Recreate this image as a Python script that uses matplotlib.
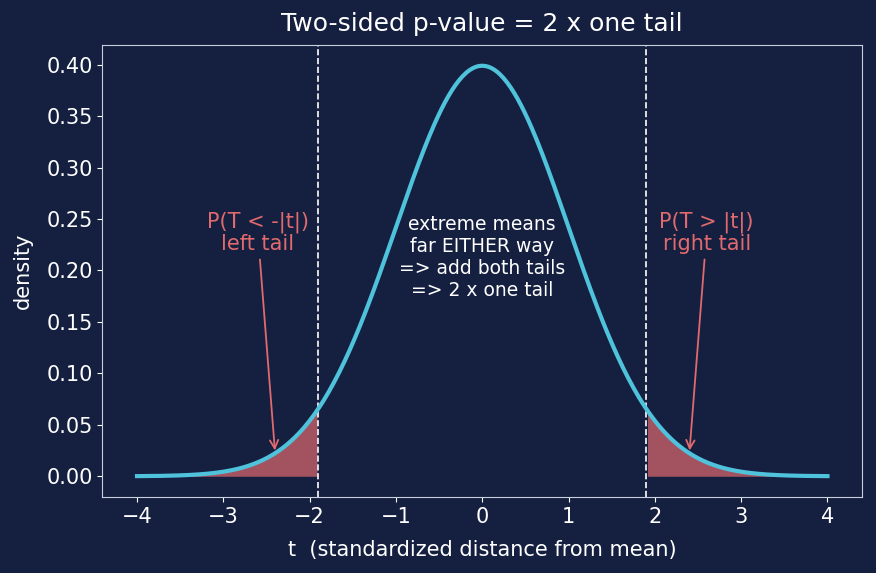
import numpy as np
import matplotlib.pyplot as plt

# data
t_crit = 1.9
x_min, x_max = -4.0, 4.0
arrow_x = [-2.4, 2.4]
label_x = [-2.6, 2.6]
label_y = 0.22
tail_labels = ["P(T < -|t|)\nleft tail", "P(T > |t|)\nright tail"]
center_text = "extreme means\nfar EITHER way\n=> add both tails\n=> 2 x one tail"

BG = "#152040"
FG = "#ffffff"
CURVE = "#4fc3dc"
TAIL = "#e06a6e"


def pdf(v):
    return np.exp(-v ** 2 / 2) / np.sqrt(2 * np.pi)


x = np.linspace(x_min, x_max, 400)
y = pdf(x)

fig, ax = plt.subplots(figsize=(8.76, 5.73), dpi=100)
fig.patch.set_facecolor(BG)
ax.set_facecolor(BG)

ax.plot(x, y, color=CURVE, lw=3, zorder=3)
left = x <= -t_crit
right = x >= t_crit
ax.fill_between(x[left], 0, y[left], color=TAIL, alpha=0.7, lw=0, zorder=2)
ax.fill_between(x[right], 0, y[right], color=TAIL, alpha=0.7, lw=0, zorder=2)
ax.axvline(-t_crit, color=FG, ls="--", lw=1.2)
ax.axvline(t_crit, color=FG, ls="--", lw=1.2)

for ax_, lx, lab in zip(arrow_x, label_x, tail_labels):
    ax.annotate(lab, xy=(ax_, pdf(ax_)), xytext=(lx, label_y),
                ha="center", color=TAIL, fontsize=15, linespacing=1.05,
                arrowprops=dict(arrowstyle="->", color=TAIL, lw=1.3))

ax.text(0, 0.213, center_text, ha="center", va="center", color=FG,
        fontsize=13.5, linespacing=1.2)

ax.set_title("Two-sided p-value = 2 x one tail", color=FG, fontsize=18, pad=10)
ax.set_xlabel("t  (standardized distance from mean)", color=FG, fontsize=15,
              labelpad=10)
ax.set_ylabel("density", color=FG, fontsize=15, labelpad=10)
ax.tick_params(colors=FG, labelsize=15)
ax.set_yticks(np.arange(0, 0.41, 0.05))
for s in ax.spines.values():
    s.set_color("#c8d0e0")

fig.subplots_adjust(left=0.117, right=0.984, top=0.921, bottom=0.133)
fig.savefig("out.png", facecolor=BG)
